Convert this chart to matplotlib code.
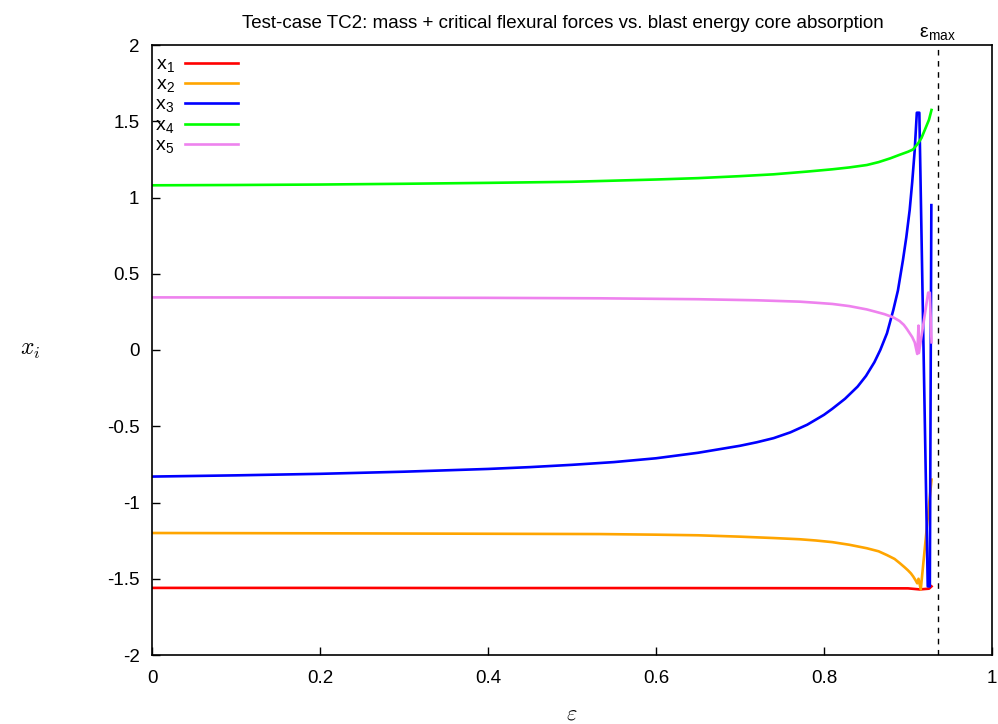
import matplotlib
matplotlib.use("Agg")
import matplotlib.pyplot as plt

plt.rcParams['font.family'] = ['Liberation Sans', 'DejaVu Sans']
plt.rcParams['mathtext.fontset'] = 'cm'

title = "Test-case TC2: mass + critical flexural forces vs. blast energy core absorption"
labels = ["x$_{\\mathregular{1}}$", "x$_{\\mathregular{2}}$", "x$_{\\mathregular{3}}$",
          "x$_{\\mathregular{4}}$", "x$_{\\mathregular{5}}$"]
colors = ["#ff0000", "#ffa500", "#0000ff", "#00ff00", "#ee82ee"]

eps_max = 0.9357

eps_x1 = [0, 0.2, 0.4, 0.6, 0.8, 0.9, 0.914, 0.925, 0.928]
x1 = [-1.56, -1.56, -1.561, -1.561, -1.562, -1.563, -1.57, -1.565, -1.55]

eps_x2 = [0, 0.2, 0.4, 0.533, 0.6, 0.65, 0.7, 0.74, 0.771, 0.79, 0.81, 0.83, 0.851,
          0.865, 0.875, 0.884, 0.8905, 0.896, 0.9, 0.9035, 0.9063, 0.909, 0.911,
          0.9125, 0.9152, 0.928]
x2 = [-1.2, -1.202, -1.205, -1.207, -1.211, -1.215, -1.224, -1.233, -1.241, -1.249,
      -1.26, -1.277, -1.30, -1.32, -1.345, -1.37, -1.399, -1.425, -1.445, -1.465,
      -1.486, -1.51, -1.53, -1.50, -1.57, -0.85]

eps_x3 = [0, 0.1, 0.2, 0.3, 0.4, 0.45, 0.5, 0.55, 0.6, 0.65, 0.7, 0.72, 0.74, 0.76,
          0.78, 0.8, 0.81, 0.825, 0.84, 0.85, 0.86, 0.867, 0.875, 0.8825, 0.888,
          0.894, 0.898, 0.902, 0.905, 0.908, 0.9105, 0.9135, 0.9235, 0.926, 0.9278]
x3 = [-0.83, -0.822, -0.812, -0.798, -0.78, -0.768, -0.753, -0.735, -0.71, -0.674,
      -0.628, -0.605, -0.578, -0.54, -0.49, -0.425, -0.385, -0.32, -0.24, -0.17,
      -0.08, 0.0, 0.11, 0.262, 0.39, 0.59, 0.74, 0.918, 1.1, 1.311, 1.556, 1.556,
      -1.55, -1.55, 0.95]

eps_x4 = [0, 0.1, 0.2, 0.3, 0.4, 0.5, 0.6, 0.65, 0.7, 0.74, 0.78, 0.81, 0.83, 0.851,
          0.865, 0.879, 0.89, 0.9, 0.906, 0.912, 0.916, 0.92, 0.925, 0.928]
x4 = [1.08, 1.082, 1.085, 1.09, 1.096, 1.103, 1.118, 1.127, 1.14, 1.152, 1.17,
      1.185, 1.197, 1.213, 1.232, 1.257, 1.28, 1.30, 1.315, 1.355, 1.39, 1.443,
      1.51, 1.574]

eps_x5 = [0, 0.2, 0.4, 0.533, 0.65, 0.72, 0.771, 0.79, 0.81, 0.83, 0.851, 0.862,
          0.872, 0.8825, 0.89, 0.895, 0.8984, 0.902, 0.905, 0.908, 0.911, 0.9125,
          0.913, 0.924, 0.926, 0.928]
x5 = [0.345, 0.344, 0.342, 0.339, 0.333, 0.326, 0.317, 0.31, 0.302, 0.288, 0.266,
      0.25, 0.235, 0.214, 0.19, 0.165, 0.14, 0.11, 0.085, 0.05, -0.026, 0.16,
      -0.02, 0.376, 0.376, 0.05]

series = [(eps_x1, x1), (eps_x2, x2), (eps_x3, x3), (eps_x4, x4), (eps_x5, x5)]

fig = plt.figure(figsize=(9.98, 7.24), dpi=100)
ax = fig.add_axes([152/998, 69/724, 840/998, 610/724])

for (e, v), c, lab in zip(series, colors, labels):
    ax.plot(e, v, color=c, lw=1.9, label=lab, solid_joinstyle='round')

ax.axvline(eps_max, color='black', lw=1.0, ls=(0, (4, 4)))
ax.text(eps_max, 2.012, "ε$_{\\mathregular{max}}$", ha='center', va='bottom', fontsize=14)

ax.set_xlim(0, 1)
ax.set_ylim(-2, 2)
ax.set_xticks([0, 0.2, 0.4, 0.6, 0.8, 1])
ax.set_xticklabels(["0", "0.2", "0.4", "0.6", "0.8", "1"])
ax.set_yticks([-2, -1.5, -1, -0.5, 0, 0.5, 1, 1.5, 2])
ax.set_yticklabels(["-2", "-1.5", "-1", "-0.5", "0", "0.5", "1", "1.5", "2"])
ax.tick_params(direction='in', length=6, width=1, labelsize=13.5)
ax.tick_params(axis='y', pad=9)
ax.tick_params(axis='x', pad=11)
for s in ax.spines.values():
    s.set_linewidth(1.2)

ax.set_title(title, fontsize=13.5, pad=12, x=0.489)
ax.set_xlabel("$\\varepsilon$", fontsize=16, labelpad=12)
ax.set_ylabel("$x_i$", fontsize=17, rotation=0, labelpad=55, va='center')

ax.legend(loc='upper left', bbox_to_anchor=(0.004, 0.982), frameon=False,
          markerfirst=False, handlelength=2.75, handletextpad=0.5, fontsize=14,
          labelspacing=0.07, borderaxespad=0.0, borderpad=0.0)

fig.savefig("out.png", dpi=100)
